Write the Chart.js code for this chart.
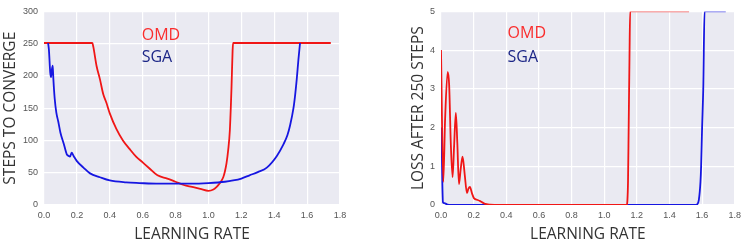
<!DOCTYPE html>
<html>
<head>
<meta charset="utf-8">
<script src="https://cdn.jsdelivr.net/npm/chart.js@4"></script>
<style>
body{margin:0;background:#fff;width:746px;height:248px;overflow:hidden;position:relative}
canvas{position:absolute;top:0}
#c1{left:0}
#c2{left:373px}
</style>
</head>
<body>
<canvas id="c1" width="373" height="248"></canvas>
<canvas id="c2" width="373" height="248"></canvas>
<script>
// steps to converge vs learning rate
const omdStepsX=[0,0.294,0.30,0.32,0.34,0.36,0.38,0.40,0.44,0.48,0.52,0.56,0.60,0.64,0.69,0.75,0.80,0.85,0.90,0.95,1.00,1.03,1.05,1.07,1.09,1.10,1.11,1.12,1.13,1.14,1.147,1.15,1.744];
const omdStepsY=[251,251,245,215,195,172,158,142,118,100,87,75,66,57,46,41,36,31,28,25,22,24,28,34,43,52,65,85,115,180,240,251,251];
const sgaStepsX=[0.025,0.03,0.038,0.043,0.048,0.053,0.057,0.065,0.075,0.087,0.10,0.12,0.138,0.15,0.158,0.168,0.18,0.20,0.24,0.28,0.34,0.40,0.50,0.58,0.70,0.80,0.90,1.00,1.10,1.15,1.20,1.25,1.30,1.355,1.416,1.456,1.48,1.497,1.517,1.527,1.537,1.547,1.557];
const sgaStepsY=[251,240,205,198,210,216,195,165,143,129,112,95,79,76,75,81,76,68,58,49,43,38,35,34,33,33,33,34,36,38,41,46,51,58,76,94,108,124,150,170,195,225,251];
// loss after 250 steps vs learning rate
const omdLossX=[0,0.014,0.025,0.041,0.05,0.06,0.071,0.08,0.091,0.10,0.11,0.12,0.132,0.145,0.159,0.168,0.177,0.19,0.203,0.224,0.24,0.26,0.28,0.30,0.35,1.138,1.142,1.146,1.15,1.155,1.159,1.52];
const omdLossY=[4.0,0.6,2.2,3.44,3.1,1.6,0.72,1.5,2.38,1.6,0.54,0.9,1.25,0.8,0.31,0.42,0.47,0.3,0.17,0.13,0.1,0.05,0.02,0.01,0,0,0.1,0.6,2.0,3.8,5,5];
const sgaLossX=[0.002,0.005,0.008,0.012,0.02,0.04,0.06,1.56,1.57,1.58,1.59,1.594,1.60,1.607,1.615,1.745];
const sgaLossY=[2.0,1.4,0.6,0.07,0.05,0.01,0,0,0.02,0.13,0.6,1.0,2.0,3.0,5,5];

const xTicks=[0,0.2,0.4,0.6,0.8,1.0,1.2,1.4,1.6,1.8];
const seriesNames=['OMD','SGA'];

const RED='rgb(240,22,22)',BLUE='rgb(22,22,225)';
const pts=(xs,ys)=>xs.map((x,i)=>({x,y:ys[i]}));

const bgPlugin={id:'bg',beforeDraw(c){const a=c.chartArea,g=c.ctx;g.save();g.fillStyle='#EAEAF2';g.fillRect(a.left,a.top,a.right-a.left,a.bottom-a.top);g.restore();}};
function labelPlugin(pos){return {id:'lbl',afterDatasetsDraw(c){
  const g=c.ctx,xs=c.scales.x,ys=c.scales.y;g.save();
  g.font='16px "Open Sans"';g.textBaseline='alphabetic';g.textAlign='left';
  g.fillStyle='rgb(250,45,45)';g.fillText(seriesNames[0],xs.getPixelForValue(pos.x),ys.getPixelForValue(pos.y[0]));
  g.fillStyle='rgb(28,38,135)';g.fillText(seriesNames[1],xs.getPixelForValue(pos.x),ys.getPixelForValue(pos.y[1]));
  g.restore();}};}

function makeChart(id,o){
  // segments lying on the top edge get half clipped in the original, so they look paler
  const pale=col=>ctx=>(ctx.p0.parsed.y>=o.ymax&&ctx.p1.parsed.y>=o.ymax)?col:undefined;
  const line={showLine:true,borderWidth:1.8,pointRadius:0,clip:0,cubicInterpolationMode:'monotone'};
  return new Chart(document.getElementById(id),{type:'scatter',
    data:{datasets:[
      {...line,data:pts(o.rx,o.ry),borderColor:RED,order:o.redOrder,segment:{borderColor:pale('rgba(240,22,22,0.7)')}},
      {...line,data:pts(o.bx,o.by),borderColor:BLUE,order:1,segment:{borderColor:pale('rgba(22,22,225,0.7)')}}]},
    options:{responsive:false,animation:false,events:[],
      layout:{padding:{left:o.padL,top:o.top,right:o.padR,bottom:0}},
      plugins:{legend:{display:false},tooltip:{enabled:false}},
      scales:{
        x:{type:'linear',min:0,max:1.8,afterBuildTicks:s=>{s.ticks=xTicks.map(v=>({value:v}))},
          afterFit:s=>{s.height=43},
          grid:{color:'#fff',lineWidth:1.2,drawTicks:false},border:{display:false},
          ticks:{padding:5,color:'#555',font:{family:'"Liberation Sans"',size:9},callback:v=>v.toFixed(1)},
          title:{display:true,text:'LEARNING RATE',color:'#333',font:{family:'"Open Sans"',size:15.5},padding:{top:0,bottom:4}}},
        y:{min:0,max:o.ymax,afterFit:s=>{s.width=o.yw},
          ticks:{stepSize:o.step,padding:6,color:'#555',font:{family:'"Liberation Sans"',size:9}},
          grid:{color:'#fff',lineWidth:1.2,drawTicks:false},border:{display:false},
          title:{display:true,text:o.ytitle,color:'#333',font:{family:'"Open Sans"',size:15.5},padding:{top:0,bottom:0}}}}},
    plugins:[bgPlugin,labelPlugin(o.lbl)]});
}

makeChart('c1',{rx:omdStepsX,ry:omdStepsY,bx:sgaStepsX,by:sgaStepsY,ymax:300,step:50,redOrder:2,
  ytitle:'STEPS TO CONVERGE',padL:1,yw:43,top:8,padR:33,lbl:{x:0.594,y:[256,221]}});
makeChart('c2',{rx:omdLossX,ry:omdLossY,bx:sgaLossX,by:sgaLossY,ymax:5,step:1,redOrder:0,
  ytitle:'LOSS AFTER 250 STEPS',padL:36,yw:32,top:9,padR:9,lbl:{x:0.408,y:[4.31,3.70]}});
</script>
</body>
</html>
